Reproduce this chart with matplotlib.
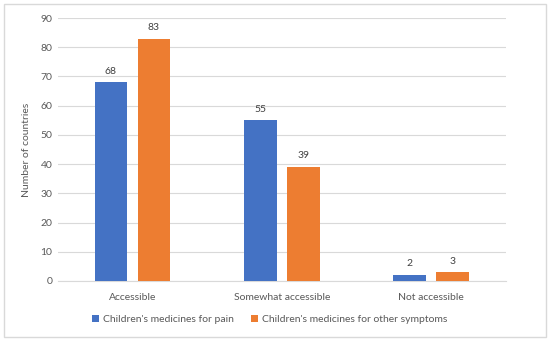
import matplotlib.pyplot as plt
import numpy as np
from matplotlib.patches import Rectangle

plt.rcParams['font.family'] = ['Lato', 'DejaVu Sans']

categories = ['Accessible', 'Somewhat accessible', 'Not accessible']
pain = [68, 55, 2]
other = [83, 39, 3]
series_names = ["Children's medicines for pain", "Children's medicines for other symptoms"]

fig = plt.figure(figsize=(5.5, 3.41), dpi=100)
ax = fig.add_axes([0.105, 0.176, 0.815, 0.771])

# outer chart border
fig.patches.append(Rectangle((0.008, 0.012), 0.984, 0.976, transform=fig.transFigure,
                             fill=False, edgecolor='#d9d9d9', linewidth=1.0))

x = np.arange(len(categories))
w = 0.22
off = 0.144
b1 = ax.bar(x - off, pain, w, color='#4472c4', label=series_names[0], zorder=3)
b2 = ax.bar(x + off, other, w, color='#ed7d31', label=series_names[1], zorder=3)

for bars in (b1, b2):
    for r in bars:
        ax.text(r.get_x() + r.get_width() / 2, r.get_height() + 2.3, str(int(r.get_height())),
                ha='center', va='bottom', fontsize=7.5, color='#404040')

ax.set_xlim(-0.5, 2.5)
ax.set_ylim(0, 90)
ax.set_yticks(range(0, 91, 10))
ax.grid(axis='y', color='#d9d9d9', linewidth=0.8, zorder=0)
for s in ['top', 'right', 'left']:
    ax.spines[s].set_visible(False)
ax.spines['bottom'].set_color('#d9d9d9')
ax.tick_params(length=0, labelsize=7.5, labelcolor='#595959')
ax.tick_params(axis='x', pad=9)
ax.tick_params(axis='y', pad=4)
ax.set_xticks(x)
ax.set_xticklabels(categories)
ax.set_ylabel('Number of countries', fontsize=7.5, color='#595959', labelpad=7)

fig.legend(loc='center', bbox_to_anchor=(0.49, 0.063), ncol=2, frameon=False,
           fontsize=7.5, handlelength=0.7, handleheight=0.7, columnspacing=1.6,
           handletextpad=0.4, labelcolor='#595959')

fig.savefig('out.png', dpi=100)
